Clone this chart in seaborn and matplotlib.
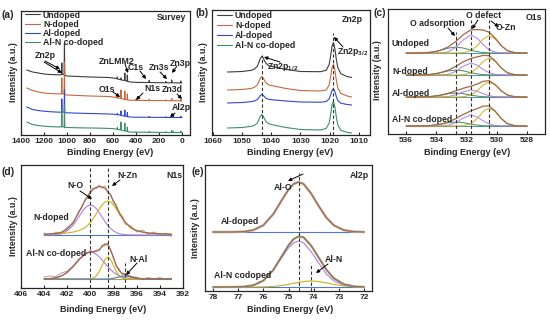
import matplotlib
matplotlib.use("Agg")
import matplotlib.pyplot as plt
import seaborn as sns
import numpy as np

# ---------------- data ----------------
samples = ["Undoped", "N-doped", "Al-doped", "Al-N co-doped"]

# (a) survey spectra, stacked intensity (a.u.)
survey_be = [1350, 1300, 1250, 1200, 1150, 1100, 1060, 1048, 1045, 1042, 1025, 1022, 1019, 1000,
             900, 800, 700, 640, 600, 575, 565, 562, 559, 540, 535, 531, 527, 515, 500, 497,
             494, 478, 475, 472, 450, 420, 403, 400, 397, 300, 288, 285, 282, 200, 143, 140,
             137, 100, 92, 89, 86, 78, 75, 72, 40, 13, 10, 7, 0]
survey_undoped = [65, 63, 62, 61, 60.5, 60.3, 60.2, 60.5, 72, 60.5, 60.3, 92, 59.5, 59, 58.5, 58,
                  57.7, 57.5, 57, 56.5, 56.3, 58, 56, 55.5, 55.3, 57, 55, 54.8, 54.6, 62, 54.4, 54,
                  60, 53.5, 53, 52.8, 52.7, 52.8, 52.6, 52.5, 52.5, 54.5, 52.5, 52.3, 52.3, 53.5,
                  52.3, 52.2, 52.2, 55, 52.2, 52.2, 52.3, 52.2, 52.1, 52.1, 54, 52, 52]
survey_ndoped = [47, 44.5, 43, 42, 41.5, 41.2, 41, 41.2, 57, 41.2, 41, 73, 40.2, 40, 39.5, 39, 38.7,
                 38.5, 38, 37.5, 37.3, 39, 37, 36.8, 36.6, 45, 36.3, 36, 35.8, 44, 35.6, 35.3, 41,
                 35, 34.8, 34.7, 34.7, 35.8, 34.6, 34.5, 34.5, 35.5, 34.5, 34.4, 34.4, 35.2, 34.4,
                 34.3, 34.3, 36.5, 34.3, 34.3, 34.3, 34.3, 34.2, 34.2, 36, 34.1, 34]
survey_aldoped = [28, 25.5, 24.5, 23.8, 23.3, 23, 22.8, 23, 36, 23, 22.8, 45, 22.3, 22.2, 21.8,
                  21.5, 21.2, 21, 20.8, 20.5, 20.3, 21.5, 20.2, 20, 19.8, 24, 19.5, 19.3, 19, 25,
                  18.8, 18.5, 22.5, 18.2, 18, 17.8, 17.8, 17.8, 17.8, 17.7, 17.7, 18.5, 17.7, 17.6,
                  17.6, 18.3, 17.6, 17.5, 17.5, 19, 17.5, 17.5, 19, 17.5, 17.5, 17.5, 18.8, 17.4, 17.4]
survey_alnco = [13, 10.5, 9.5, 8.8, 8.4, 8.2, 8, 8.2, 25, 8.2, 8, 30, 7.6, 7.5, 7.2, 7, 6.8, 6.6,
                6.4, 6, 5.8, 7.5, 5.7, 5.3, 5.1, 13, 4.8, 4.5, 4.2, 12, 4, 3.6, 8, 3.3, 3, 2.8, 2.8,
                3.3, 2.8, 2.7, 2.7, 3.5, 2.7, 2.6, 2.6, 3.3, 2.6, 2.5, 2.5, 4.5, 2.5, 2.5, 3.5, 2.5,
                2.5, 2.5, 4, 2.4, 2.4]

# (b) Zn2p
zn2p_be = [1055, 1050, 1046.8, 1045.8, 1044.8, 1044.3, 1043.8, 1043.3, 1042.8, 1042.3, 1041.8,
           1040.8, 1038.8, 1035, 1030, 1023.2, 1021.2, 1020.2, 1019.7, 1019.2, 1018.7, 1018.2,
           1017.7, 1017.2, 1016.2, 1014.2, 1012.5]
zn2p_undoped = [63, 63.5, 64.7, 65.9, 68.6, 72.1, 76.2, 78.5, 77.2, 74.1, 71.6, 69.2, 67.9, 65.5,
                63.5, 63.3, 64.7, 70.2, 78.6, 89, 92.5, 85.8, 75, 67.2, 61.4, 58.6, 57.5]
zn2p_ndoped = [45, 45.5, 46.6, 47.7, 50, 53, 56.5, 58.3, 57.1, 54.4, 52, 50, 48.8, 46.5, 44.5, 44,
               45, 49.9, 57.7, 67.4, 70.7, 64.4, 54.2, 47, 41.7, 39.2, 38]
zn2p_aldoped = [32, 32.5, 33.4, 34, 35.4, 37.2, 39.3, 40.5, 39.8, 38.2, 36.8, 35.6, 35, 34, 33,
                32.8, 33.5, 36, 39.9, 44.7, 46.3, 43.2, 38.1, 34.4, 31.8, 30.6, 30]
zn2p_alnco = [7, 7.5, 8.7, 9.6, 11.9, 15, 18.6, 20.5, 19.1, 16, 13.3, 11.1, 9.8, 7.5, 5.5, 5, 6.5,
              11.9, 20, 30.2, 33.8, 27.5, 17.2, 9.9, 4.8, 2.7, 2]
zn2p_peaks = [1043.3, 1018.7]

# (c) O1s fitted components (height above each baseline)
o1s_be = [536, 535.5, 535, 534.5, 534, 533.6, 533.2, 532.7, 532.2, 531.7, 531.3, 530.9, 530.5,
          530.1, 529.7, 529.3, 528.8, 528.4, 528]
o_ads = [
    [0, 0, 0.1, 0.5, 1.6, 3.2, 4.9, 6, 4.9, 2.8, 1.3, 0.5, 0.1, 0, 0, 0, 0, 0, 0],
    [0, 0, 0.1, 0.4, 1.4, 2.7, 4.1, 5, 4.1, 2.3, 1.1, 0.4, 0.1, 0, 0, 0, 0, 0, 0],
    [0, 0, 0.1, 0.3, 1.1, 2.1, 3.3, 4, 3.3, 1.8, 0.9, 0.3, 0.1, 0, 0, 0, 0, 0, 0],
    [0, 0, 0.1, 0.3, 1.1, 2.1, 3.3, 4, 3.3, 1.8, 0.9, 0.3, 0.1, 0, 0, 0, 0, 0, 0],
]
o_def = [
    [0, 0, 0, 0, 0, 0.3, 1.3, 5.6, 13.3, 18, 14.9, 8.5, 3.2, 0.9, 0.2, 0, 0, 0, 0],
    [0, 0, 0, 0, 0, 0.2, 0.8, 3.7, 8.9, 12, 10, 5.6, 2.2, 0.6, 0.1, 0, 0, 0, 0],
    [0, 0, 0, 0, 0, 0.1, 0.5, 2.2, 5.2, 7, 5.8, 3.3, 1.3, 0.3, 0.1, 0, 0, 0, 0],
    [0, 0, 0, 0, 0, 0.2, 0.8, 3.4, 8.1, 11, 9.1, 5.2, 2, 0.5, 0.1, 0, 0, 0, 0],
]
o_zn = [
    [0, 0, 0, 0, 0, 0, 0, 0, 0.3, 2.4, 7.2, 14, 17.5, 14, 7.2, 2.4, 0.3, 0, 0],
    [0, 0, 0, 0, 0, 0, 0, 0, 0.3, 2.3, 7, 13.6, 17, 13.6, 7, 2.3, 0.3, 0, 0],
    [0, 0, 0, 0, 0, 0, 0, 0, 0.3, 2, 6.2, 12, 15, 12, 6.2, 2, 0.3, 0, 0],
    [0, 0, 0, 0, 0, 0, 0, 0, 0.3, 2.4, 7.4, 14.4, 18, 14.4, 7.4, 2.4, 0.3, 0, 0],
]
o1s_lines = [532.7, 531.7, 530.5]

# (d) N1s
n1s_be = [404, 403.5, 403, 402.5, 402, 401.5, 401, 400.75, 400.5, 400.25, 400, 399.75, 399.5,
          399.25, 399, 398.75, 398.5, 398.25, 398, 397.75, 397.5, 397.25, 397, 396.5, 396, 395.5,
          395, 394.5, 394, 393.5, 393]
n_raw_nd = [2, -1, 3, 1, 8, 11, 24, 27, 35, 37, 45, 47, 46, 50, 47, 49, 42, 41, 32, 30, 20, 19, 11,
            9, 3, 5, 0.5, 3, 0, 2, -1.5]
n_o_nd = [0, 0.1, 0.3, 1.3, 4.1, 9.7, 18.2, 22.6, 26.5, 29.1, 30, 29.1, 26.5, 22.6, 18.2, 13.7,
          9.7, 6.5, 4.1, 2.4, 1.3, 0.7, 0.3, 0.1, 0, 0, 0, 0, 0, 0, 0]
n_zn_nd = [0.8, 1.0, 1.2, 1.5, 2.0, 2.9, 4.4, 5.8, 7.1, 9.5, 12.6, 16.7, 21.1, 25.8, 29.9, 33, 34,
           33, 29.9, 25.8, 21.1, 16.7, 12.6, 7.1, 4.4, 2.9, 2.0, 1.5, 1.2, 1.0, 0.8]
n_raw_co = [2, 3, 2.5, 6, 8, 13, 20, 21, 26, 25, 29, 26, 29, 28, 34, 33, 36, 28, 22, 12, 10, 4, 6,
            1.5, 2, -0.5, 1.5, 0, 1.5, -0.5, 1]
n_o_co = [0.1, 0.4, 1.2, 3.1, 6.7, 12.4, 19.1, 22.2, 24.8, 26.4, 27, 26.4, 24.8, 22.2, 19.1, 15.7,
          12.4, 9.3, 6.7, 4.7, 3.1, 1.9, 1.2, 0.4, 0.1, 0, 0, 0, 0, 0, 0]
n_zn_co = [0, 0, 0, 0, 0, 0, 0, 0, 0, 0, 0.2, 1.0, 3.0, 7.1, 13.3, 19.4, 22, 19.4, 13.3, 7.1, 3.0,
           1.0, 0.2, 0, 0, 0, 0, 0, 0, 0, 0]
n_al_co = [0, 0, 0, 0, 0, 0, 0, 0, 0, 0, 0, 0, 0, 0, 0, 0, 0, 0.3, 0.7, 1.4, 2.1, 2.8, 3, 2.1, 0.7,
           0.1, 0, 0, 0, 0, 0]
n1s_lines = [400.0, 398.5, 397.0]

# (e) Al2p
al2p_be = [78, 77.6, 77.2, 76.8, 76.4, 76.0, 75.6, 75.3, 75.0, 74.8, 74.6, 74.4, 74.1, 73.8, 73.5,
           73.2, 72.8, 72.4, 72.0]
al_o_ad = [0, 0, 0.05, 0.35, 1.85, 6.75, 18, 30.5, 42.5, 48, 50, 48, 38.5, 26, 14.5, 6.75, 1.85,
           0.35, 0.05]
al_o_co = [0, 0, 0.05, 0.3, 1.7, 6.2, 16.6, 28.1, 39.1, 44.2, 46, 44.2, 35.4, 23.9, 13.3, 6.2, 1.7,
           0.3, 0.05]
al_n_co = [0, 0, 0, 0, 0, 0.15, 0.6, 1.4, 2.6, 3.7, 4.6, 5.5, 6, 5.5, 4.2, 2.6, 1.1, 0.3, 0.1]
al2p_lines = [74.6, 74.1]

ticks_a = [1400, 1200, 1000, 800, 600, 400, 200, 0]
ticks_b = [1060, 1050, 1040, 1030, 1020, 1010]
ticks_c = [536, 534, 532, 530, 528]
ticks_d = [406, 404, 402, 400, 398, 396, 394, 392]
ticks_e = [78, 77, 76, 75, 74, 73, 72]

# ---------------- style / layout ----------------
sample_colors = ["#3d3d3d", "#c4693f", "#3446cf", "#3d8e6a"]
c_env, c_ads, c_def, c_zn = "#a0674a", "#4b8a55", "#b07ee8", "#c9b31a"
c_base, c_raw = "#4f78c8", "#b89c9c"

W, H = 550, 322
FS = 6.3

sns.set_style("ticks")
plt.rcParams["font.family"] = ["Liberation Sans", "DejaVu Sans"]
plt.rcParams["font.weight"] = "bold"
plt.rcParams["mathtext.fontset"] = "custom"
plt.rcParams["mathtext.rm"] = "Liberation Sans:bold"
plt.rcParams["mathtext.default"] = "rm"


def fp(x, y):
    return (x / W, 1 - y / H)


def make_ax(fig, frame, xlim, ticks):
    l, t, r, b = frame
    ax = fig.add_axes([l / W, 1 - b / H, (r - l) / W, (b - t) / H])
    ax.set_xlim(*xlim)
    ax.set_ylim(0, b - t)
    ax.set_xticks(ticks)
    ax.set_yticks([])
    ax.tick_params(axis="x", direction="in", length=2.5, width=0.8, labelsize=6, pad=2.5)
    for s in ax.spines.values():
        s.set_linewidth(0.9)
    ax.set_xlabel("")
    ax.set_ylabel("")
    return ax


def line(ax, x, y, color, lw=0.8, label=None):
    sns.lineplot(x=x, y=y, ax=ax, color=color, linewidth=lw, estimator=None,
                 sort=False, legend=False, label=label)


def dash(ax, x, top):
    ax.vlines(x, 0, top, colors="#333333", linestyles=(0, (3, 2)), linewidth=0.8)


def txt(s, x, y, ha="center", size=FS, **kw):
    fig.text(*fp(x, y), s, ha=ha, va="center", fontsize=size, fontweight="bold", **kw)


def arrow(ax, p0, p1):
    ax.annotate("", xy=fp(*p1), xytext=fp(*p0), xycoords="figure fraction",
                textcoords="figure fraction",
                arrowprops=dict(arrowstyle="-|>", color="black", lw=0.7,
                                mutation_scale=5, shrinkA=0, shrinkB=0))


fig = plt.figure(figsize=(W / 100, H / 100), dpi=100)

FA = (21, 11, 190, 135)
FB = (212, 10, 370, 135)
FC = (388, 9, 545, 134)
FD = (21, 165, 183, 288)
FE = (205, 165, 372, 291)

# ---------- (a) survey ----------
ax = make_ax(fig, FA, (1400, -70), ticks_a)
for vals, col, lab in zip([survey_undoped, survey_ndoped, survey_aldoped, survey_alnco],
                          sample_colors, samples):
    line(ax, survey_be, vals, col, 0.8, lab)
ax.legend(handles=ax.get_lines()[:4], labels=samples, loc="upper left",
          bbox_to_anchor=fp(25, 10.5), bbox_transform=fig.transFigure, frameon=False,
          fontsize=FS, handlelength=1.7, handletextpad=0.35, labelspacing=0.02,
          borderpad=0, borderaxespad=0)
txt("(a)", 1, 15, ha="left", size=7.5)
txt("Survey", 171, 18)
for s, x, y in [("Zn2p", 45, 55), ("ZnLMM2", 117, 61), ("C1s", 136, 68), ("Zn3s", 159, 68),
                ("Zn3p", 180, 63), ("O1s", 107, 89), ("N1s", 152, 88), ("Zn3d", 172, 89),
                ("Al2p", 181, 108)]:
    txt(s, x, y)
for p0, p1 in [((45, 61), (60, 69)), ((44, 62), (62, 73)), ((125, 64), (128, 73)),
               ((140, 71), (146, 79)), ((160, 72), (167, 79)), ((177, 66), (172, 73)),
               ((113, 92), (120, 97)), ((143, 93), (136, 100)), ((177, 94), (182, 99)),
               ((175, 113), (170, 117))]:
    arrow(ax, p0, p1)
txt("Intensity (a.u.)", 13, 72, rotation=90)
txt("Binding Energy (eV)", 110, 153, size=6.5)

# ---------- (b) Zn2p ----------
ax = make_ax(fig, FB, (1060.3, 1006.2), ticks_b)
for vals, col, lab in zip([zn2p_undoped, zn2p_ndoped, zn2p_aldoped, zn2p_alnco],
                          sample_colors, samples):
    line(ax, zn2p_be, vals, col, 0.8, lab)
ax.legend(handles=ax.get_lines()[:4], labels=samples, loc="upper left",
          bbox_to_anchor=fp(217, 11.5), bbox_transform=fig.transFigure, frameon=False,
          fontsize=FS, handlelength=1.7, handletextpad=0.35, labelspacing=0.08,
          borderpad=0, borderaxespad=0)
dash(ax, zn2p_peaks[0], FB[3] - 55)
dash(ax, zn2p_peaks[1], FB[3] - 33)
txt("(b)", 195, 13, ha="left", size=7.5)
txt("Zn2p", 352, 19)
txt("Zn2p$_{3/2}$", 337, 52, ha="left")
txt("Zn2p$_{1/2}$", 267, 67, ha="left")
arrow(ax, (343, 47), (334, 37))
arrow(ax, (280, 62), (264, 57))
txt("Intensity (a.u.)", 204, 72, rotation=90)
txt("Binding Energy (eV)", 290, 153, size=6.5)

# ---------- (c) O1s ----------
ax = make_ax(fig, FC, (537.2, 526.8), ticks_c)
offs_c = [81, 59, 37, 8]
for i in range(4):
    off = offs_c[i]
    base = np.full(len(o1s_be), float(off))
    ads = np.array(o_ads[i]) + off
    dfc = np.array(o_def[i]) + off
    ozn = np.array(o_zn[i]) + off
    env = base + np.array(o_ads[i]) + np.array(o_def[i]) + np.array(o_zn[i])
    line(ax, o1s_be, base, "#5a9aa8", 0.8)
    line(ax, o1s_be, ads, c_ads, 0.7)
    line(ax, o1s_be, dfc, c_def, 0.7)
    line(ax, o1s_be, ozn, c_zn, 0.7)
    line(ax, o1s_be, env, c_env, 0.9)
for x, top in zip(o1s_lines, [32, 20, 20]):
    dash(ax, x, FC[3] - top)
txt("(c)", 373, 13, ha="left", size=7.5)
txt("O1s", 534, 18)
txt("O defect", 484, 15)
txt("O adsorption", 437, 23)
txt("O-Zn", 506, 28)
for s, y in zip(samples, [43, 71, 93, 120]):
    txt(s, 392, y, ha="left")
arrow(ax, (448, 28), (455, 36))
arrow(ax, (478, 20), (472, 29))
arrow(ax, (491, 21), (499, 27))
txt("Intensity (a.u.)", 378, 70, rotation=90)
txt("Binding Energy (eV)", 467, 153, size=6.5)

# ---------- (d) N1s ----------
ax = make_ax(fig, FD, (406, 392), ticks_d)
for off, raw, comps, env_col in [(53, n_raw_nd, [(n_o_nd, c_def), (n_zn_nd, c_zn)], c_env),
                                 (9, n_raw_co, [(n_o_co, c_def), (n_zn_co, c_zn),
                                                (n_al_co, c_base)], c_env)]:
    base = np.full(len(n1s_be), float(off))
    line(ax, n1s_be, np.array(raw) + off, c_raw, 0.7)
    line(ax, n1s_be, base, c_base if off > 20 else "#b0a040", 0.8)
    env = base.copy()
    for comp, col in comps:
        line(ax, n1s_be, np.array(comp) + off, col, 0.8)
        env = env + np.array(comp)
    line(ax, n1s_be, env, env_col, 0.9)
dash(ax, n1s_lines[0], FD[3] - 167)
dash(ax, n1s_lines[1], FD[3] - 167)
dash(ax, n1s_lines[2], FD[3] - 263)
txt("(d)", 2, 172, ha="left", size=7.5)
txt("N1s", 174, 175)
txt("N-O", 75, 186)
txt("N-Zn", 127, 175)
txt("N-doped", 51, 217)
txt("Al-N co-doped", 56, 253)
txt("N-Al", 138, 259)
arrow(ax, (80, 191), (92, 199))
arrow(ax, (120, 180), (112, 186))
arrow(ax, (137, 263), (126, 275))
txt("Intensity (a.u.)", 13, 226, rotation=90)
txt("Binding Energy (eV)", 103, 310, size=6.5)

# ---------- (e) Al2p ----------
ax = make_ax(fig, FE, (78.32, 71.68), ticks_e)
off = 59
base = np.full(len(al2p_be), float(off))
line(ax, al2p_be, base, c_base, 0.8)
line(ax, al2p_be, np.array(al_o_ad) + off, "#bdb0a0", 1.8)
line(ax, al2p_be, np.array(al_o_ad) + off, c_env, 0.8)
off = 4
base = np.full(len(al2p_be), float(off))
line(ax, al2p_be, base, c_base, 0.8)
line(ax, al2p_be, np.array(al_o_co) + off, c_def, 0.8)
line(ax, al2p_be, np.array(al_n_co) + off, c_zn, 0.8)
env = base + np.array(al_o_co) + np.array(al_n_co)
line(ax, al2p_be, env, "#9aae90", 1.6)
line(ax, al2p_be, env, c_env, 0.8)
dash(ax, al2p_lines[0], FE[3] - 173)
dash(ax, al2p_lines[1], FE[3] - 263)
txt("(e)", 191, 172, ha="left", size=7.5)
txt("Al2p", 359, 175)
txt("Al-O", 283, 187)
txt("Al-doped", 240, 221)
txt("Al-N codoped", 243, 275)
txt("Al-N", 334, 259)
arrow(ax, (303, 174), (288, 181))
arrow(ax, (328, 264), (316, 273))
txt("Intensity (a.u.)", 196, 228, rotation=90)
txt("Binding Energy (eV)", 290, 310, size=6.5)

fig.savefig("out.png", dpi=100)
